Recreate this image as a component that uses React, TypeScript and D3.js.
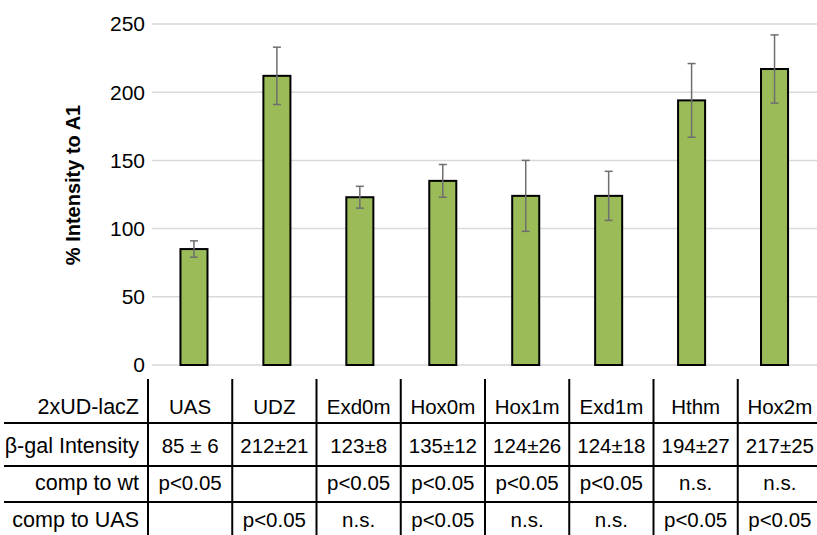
import React from "react";
import * as d3 from "d3";

const categories = ["UAS", "UDZ", "Exd0m", "Hox0m", "Hox1m", "Exd1m", "Hthm", "Hox2m"];
const values = [85, 212, 123, 135, 124, 124, 194, 217];
const errors = [6, 21, 8, 12, 26, 18, 27, 25];
const yTicks = [0, 50, 100, 150, 200, 250];
const rowLabels = ["2xUD-lacZ", "\u03B2-gal Intensity", "comp to wt", "comp to UAS"];
const intensityRow = ["85 \u00B1 6", "212\u00B121", "123\u00B18", "135\u00B112", "124\u00B126", "124\u00B118", "194\u00B127", "217\u00B125"];
const compWtRow = ["p<0.05", "", "p<0.05", "p<0.05", "p<0.05", "p<0.05", "n.s.", "n.s."];
const compUasRow = ["", "p<0.05", "n.s.", "p<0.05", "n.s.", "n.s.", "p<0.05", "p<0.05"];

const W = 817;
const H = 535;
const FONT = "Arial, 'Liberation Sans', sans-serif";

export default function App() {
  const y = d3.scaleLinear().domain([0, 250]).range([365, 24]);
  const x = d3
    .scaleBand<string>()
    .domain(categories)
    .range([152.5, 816])
    .paddingInner(0.674)
    .paddingOuter(0.337);
  const col = d3.scaleBand<string>().domain(categories).range([148, 822]);

  const rows = [categories, intensityRow, compWtRow, compUasRow];
  const rowBaselines = [414, 453, 490, 527];
  const hLines = [423, 466, 502];

  return (
    <svg
      width={W}
      height={H}
      style={{ position: "absolute", left: 0, top: 0, background: "#fff" }}
      fontFamily={FONT}
    >
      {yTicks.map((t) => (
        <line
          key={"g" + t}
          x1={152}
          x2={817}
          y1={y(t)}
          y2={y(t)}
          stroke="#d9d9d9"
          strokeWidth={1.5}
        />
      ))}
      {yTicks.map((t) => (
        <text
          key={"t" + t}
          x={145}
          y={y(t)}
          dy="0.35em"
          textAnchor="end"
          fontSize={21}
          fill="#000"
        >
          {t}
        </text>
      ))}
      <text
        transform={`translate(80,${185}) rotate(-90)`}
        textAnchor="middle"
        fontSize={20}
        fontWeight="bold"
        fill="#000"
      >
        % Intensity to A1
      </text>
      {categories.map((c, i) => (
        <rect
          key={"b" + c}
          x={x(c)!}
          y={y(values[i])}
          width={x.bandwidth()}
          height={y(0) - y(values[i])}
          fill="#9bbb59"
          stroke="#000"
          strokeWidth={2}
        />
      ))}
      {categories.map((c, i) => {
        const cx = x(c)! + x.bandwidth() / 2;
        const top = y(values[i] + errors[i]);
        const bot = y(values[i] - errors[i]);
        return (
          <g key={"e" + c} stroke="#6e6e6e" strokeWidth={1.5}>
            <line x1={cx} x2={cx} y1={top} y2={bot} />
            <line x1={cx - 4} x2={cx + 4} y1={top} y2={top} />
            <line x1={cx - 4} x2={cx + 4} y1={bot} y2={bot} />
          </g>
        );
      })}
      {hLines.map((ly) => (
        <line key={"h" + ly} x1={4} x2={817} y1={ly} y2={ly} stroke="#000" strokeWidth={2} />
      ))}
      {categories.map((c) => (
        <line
          key={"v" + c}
          x1={col(c)!}
          x2={col(c)!}
          y1={379}
          y2={535}
          stroke="#000"
          strokeWidth={2}
        />
      ))}
      {rowLabels.map((l, r) => (
        <text key={"rl" + r} x={139} y={rowBaselines[r]} textAnchor="end" fontSize={21.5} fill="#000">
          {l}
        </text>
      ))}
      {rows.map((row, r) =>
        row.map((v, i) => (
          <text
            key={"c" + r + "-" + i}
            x={col(categories[i])! + col.bandwidth() / 2}
            y={rowBaselines[r]}
            textAnchor="middle"
            fontSize={20.5}
            fill="#000"
          >
            {v}
          </text>
        ))
      )}
    </svg>
  );
}
